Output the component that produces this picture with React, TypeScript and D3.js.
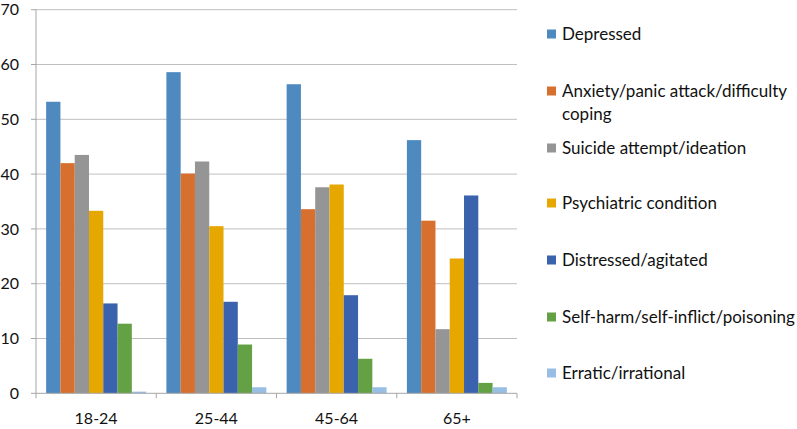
import React from "react";
import * as d3 from "d3";

const categories = ["18-24", "25-44", "45-64", "65+"];
const seriesNames = [
  "Depressed",
  "Anxiety/panic attack/difficulty coping",
  "Suicide attempt/ideation",
  "Psychiatric condition",
  "Distressed/agitated",
  "Self-harm/self-inflict/poisoning",
  "Erratic/irrational",
];
const legendLines = [
  ["Depressed"],
  ["Anxiety/panic attack/difficulty", "coping"],
  ["Suicide attempt/ideation"],
  ["Psychiatric condition"],
  ["Distressed/agitated"],
  ["Self-harm/self-inflict/poisoning"],
  ["Erratic/irrational"],
];
const depressed = [53.2, 58.6, 56.4, 46.2];
const anxiety = [42.0, 40.1, 33.6, 31.5];
const suicide = [43.5, 42.3, 37.6, 11.7];
const psychiatric = [33.3, 30.5, 38.1, 24.6];
const distressed = [16.4, 16.7, 17.9, 36.1];
const selfHarm = [12.7, 8.9, 6.3, 1.9];
const erratic = [0.3, 1.1, 1.1, 1.1];
const yTicks = [0, 10, 20, 30, 40, 50, 60, 70];
const colors = ["#4E89C0", "#D7702E", "#959595", "#E6A800", "#3B63AD", "#64A044", "#98BEE4"];

const series = [depressed, anxiety, suicide, psychiatric, distressed, selfHarm, erratic];

export default function App() {
  const W = 797, H = 429;
  const left = 36, right = 517, top = 9.7, bottom = 393.3;
  const x0 = d3.scaleBand<string>().domain(categories).range([left, right]).paddingInner(0).paddingOuter(0);
  const x1 = d3.scaleBand<string>().domain(seriesNames).range([0, x0.bandwidth()]).paddingInner(0).paddingOuter(0.71);
  const y = d3.scaleLinear().domain([0, 70]).range([bottom, top]);
  const font = "Lato, 'Open Sans', sans-serif";
  const legendY = [34, 91, 148, 203, 260, 317, 373];
  const tickXs = [left, ...categories.map((c) => (x0(c) as number) + x0.bandwidth())];
  return (
    <svg width={W} height={H} style={{ position: "absolute", left: 0, top: 0, background: "#fff" }}>
      {yTicks.map((t) => (
        <g key={t}>
          {t > 0 && <line x1={left} x2={right} y1={y(t)} y2={y(t)} stroke="#BFBFBF" strokeWidth={1} />}
          <line x1={left - 5} x2={left} y1={y(t)} y2={y(t)} stroke="#A6A6A6" strokeWidth={1} />
          <text x={19} y={y(t)} dy="0.35em" textAnchor="end" fontSize={16} fontFamily={font} fill="#111">
            {t}
          </text>
        </g>
      ))}
      {series.map((vals, si) =>
        vals.map((v, ci) => (
          <rect
            key={`${si}-${ci}`}
            x={(x0(categories[ci]) as number) + (x1(seriesNames[si]) as number)}
            y={y(v)}
            width={x1.bandwidth()}
            height={bottom - y(v)}
            fill={colors[si]}
          />
        ))
      )}
      <line x1={left} x2={left} y1={top} y2={bottom} stroke="#A6A6A6" strokeWidth={1} />
      <line x1={left} x2={right} y1={bottom} y2={bottom} stroke="#A6A6A6" strokeWidth={1} />
      {tickXs.map((tx, i) => (
        <line key={i} x1={tx} x2={tx} y1={bottom} y2={bottom + 5} stroke="#A6A6A6" strokeWidth={1} />
      ))}
      {categories.map((c) => (
        <text
          key={c}
          x={(x0(c) as number) + x0.bandwidth() / 2}
          y={418}
          dy="0.35em"
          textAnchor="middle"
          fontSize={16}
          fontFamily={font}
          fill="#111"
        >
          {c}
        </text>
      ))}
      {legendLines.map((lines, i) => (
        <g key={i}>
          <rect x={547} y={legendY[i] - 4.5} width={9} height={9} fill={colors[i]} />
          {lines.map((ln, j) => (
            <text key={j} x={562} y={legendY[i] + j * 23} dy="0.35em" fontSize={17} fontFamily={font} fill="#111">
              {ln}
            </text>
          ))}
        </g>
      ))}
    </svg>
  );
}
